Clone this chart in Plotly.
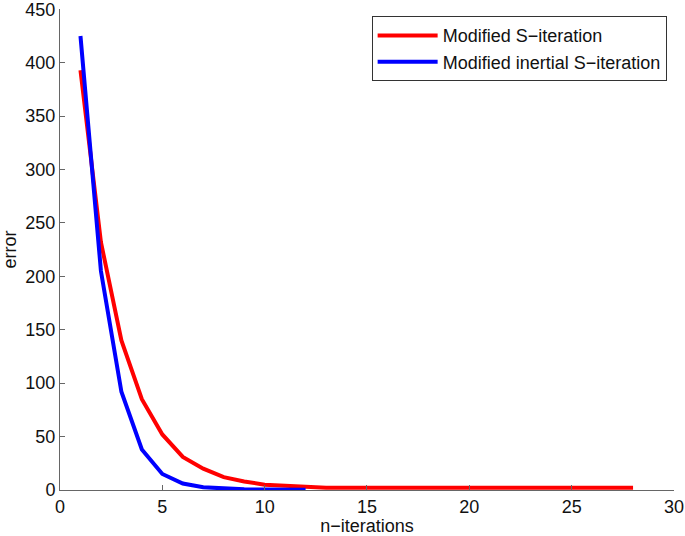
import plotly.graph_objects as go

n_red = list(range(1, 29))
err_red = [393, 232, 140, 85, 52, 31, 20, 12, 8, 5, 4, 3, 2, 2, 2, 2, 2, 2, 2, 2, 2, 2, 2, 2, 2, 2, 2, 2]
n_blue = list(range(1, 13))
err_blue = [425, 205, 92, 38, 15, 6, 2.5, 1.2, 0.6, 0.4, 0.3, 0.2]

x_ticks = [0, 5, 10, 15, 20, 25, 30]
y_ticks = [0, 50, 100, 150, 200, 250, 300, 350, 400, 450]

FONT = "Liberation Sans, Arial"

fig = go.Figure()
fig.add_trace(go.Scatter(x=n_red, y=err_red, mode="lines", name="Modified S\u2212iteration",
                         line=dict(color="#ff0000", width=4)))
fig.add_trace(go.Scatter(x=n_blue, y=err_blue, mode="lines", name="Modified inertial S\u2212iteration",
                         line=dict(color="#0000ff", width=4)))

axis_common = dict(showgrid=False, zeroline=False, showline=True, linecolor="#666666", linewidth=1,
                   ticks="inside", ticklen=5, tickcolor="#666666", ticklabeloverflow="allow",
                   tickfont=dict(family=FONT, size=18, color="#111111"))

fig.update_layout(
    width=685, height=536,
    margin=dict(l=60, r=11, t=9, b=46, autoexpand=False),
    plot_bgcolor="white", paper_bgcolor="white",
    xaxis=dict(range=[0, 30.001], tickvals=x_ticks, title=dict(text="n\u2212iterations", standoff=4,
               font=dict(family=FONT, size=18, color="#111111")), **axis_common),
    yaxis=dict(range=[0, 450.3], tickvals=y_ticks, title=dict(text="error", standoff=13,
               font=dict(family=FONT, size=18, color="#111111")), **axis_common),
    legend=dict(x=0.988, y=0.985, xanchor="right", yanchor="top", bordercolor="#333333", borderwidth=1,
                bgcolor="white", font=dict(family=FONT, size=18, color="#111111"),
                tracegroupgap=0, itemwidth=60),
    showlegend=True,
)

fig.write_html("out.html", config={"displayModeBar": False},
               post_script="document.body.style.margin='0';document.body.style.padding='0';document.body.style.overflow='hidden';")
